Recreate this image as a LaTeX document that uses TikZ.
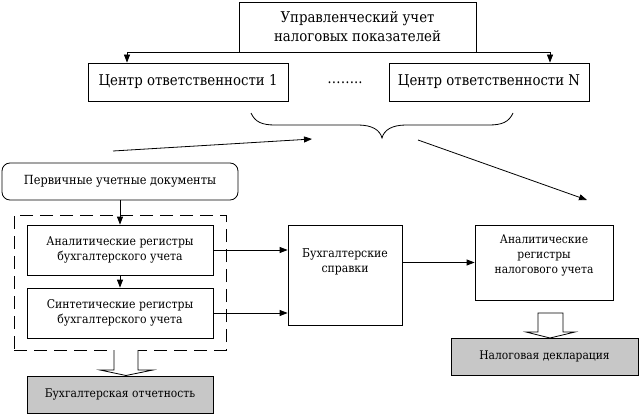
\documentclass[tikz,border=0pt]{standalone}
\usepackage{fontspec}
\setmainfont{DejaVu Serif Condensed}
\usetikzlibrary{arrows.meta}
\begin{document}
\begin{tikzpicture}[x=1pt,y=-1pt,
  font=\fontsize{12.1}{15.5}\selectfont,
  big/.style={font=\fontsize{14.8}{19}\selectfont},
  box/.style={draw,line width=0.8pt,rectangle,inner sep=0pt,align=center},
  gbox/.style={box,fill=black!22,font=\fontsize{11.9}{15}\selectfont},
  arr/.style={line width=0.8pt,-{Triangle[length=8pt,width=6pt]}},
  ln/.style={line width=0.8pt},
  hollow/.style={draw,line width=0.8pt,fill=white}]
\useasboundingbox[fill=white] (0,0) rectangle (639,414);
\node[box,big,minimum width=237pt,minimum height=50pt] (top) at (357.5,27) {Управленческий учет\\налоговых показателей};
\node[box,big,minimum width=200pt,minimum height=38pt] (c1) at (188,82) {Центр ответственности 1};
\node[box,big,minimum width=200pt,minimum height=38pt] (cN) at (489,82) {Центр ответственности N};
\node[big] (dots) at (345,83) {……..};
\draw[arr] (top.south) -| ([xshift=-61pt]c1.north);
\draw[arr] (top.south) -| ([xshift=61pt]cN.north);
% brace
\draw[ln] (251,113) .. controls (255,122) and (262,125) .. (275,125) -- (358,125) .. controls (372,125) and (380,130) .. (382,138) .. controls (384,130) and (392,125) .. (406,125) -- (489,125) .. controls (502,125) and (509,122) .. (513,113);
\coordinate (a1s) at (113,151);
\coordinate (a1e) at (312,139);
\coordinate (a2s) at (418,140);
\coordinate (a2e) at (587,200);
\draw[arr] (a1s) -- (a1e);
\draw[arr] (a2s) -- (a2e);
\node[box,rounded corners=8pt,minimum width=236pt,minimum height=37pt,font=\fontsize{12.6}{15.5}\selectfont] (prim) at (120,181.5) {Первичные учетные документы};
\node[draw,line width=0.8pt,dash pattern=on 13pt off 7pt,minimum width=212pt,minimum height=135pt,inner sep=0pt] (dash) at (120,282.5) {};
\node[box,minimum width=186pt,minimum height=50pt] (anal) at (120,250) {Аналитические регистры\\бухгалтерского учета};
\node[box,minimum width=186pt,minimum height=50pt] (synt) at (120,313) {Синтетические регистры\\бухгалтерского учета};
\node[box,minimum width=114pt,minimum height=100pt] (sprav) at (345,275) {};
\node[align=center] (spravt) at (345,262) {Бухгалтерские\\справки};
\node[box,minimum width=138pt,minimum height=75pt] (taxreg) at (544,262.5) {};
\node[align=center,font=\fontsize{11.9}{15}\selectfont] (taxregt) at (544,255) {Аналитические\\регистры\\налогового учета};
\node[gbox,minimum width=186pt,minimum height=37pt] (otch) at (120,394.5) {Бухгалтерская отчетность};
\node[gbox,minimum width=187pt,minimum height=37pt] (decl) at (544.5,356.5) {Налоговая декларация};
\draw[arr] (prim.south) -- (anal.north);
\draw[arr] (anal.south) -- (synt.north);
\draw[arr] (anal.east) -- (anal.east -| sprav.west);
\draw[arr] (synt.east) -- (synt.east -| sprav.west);
\draw[arr] (taxreg.west -| sprav.east) -- (taxreg.west);
% hollow arrows
\draw[hollow] (114,350) -- (114,370) -- (100,370) -- (126,375.5) -- (153,370) -- (138,370) -- (138,350);
\draw[hollow] (538,313) -- (538,332) -- (526,332) -- (550,338) -- (575,332) -- (563,332) -- (563,313) -- cycle;
\end{tikzpicture}
\end{document}
